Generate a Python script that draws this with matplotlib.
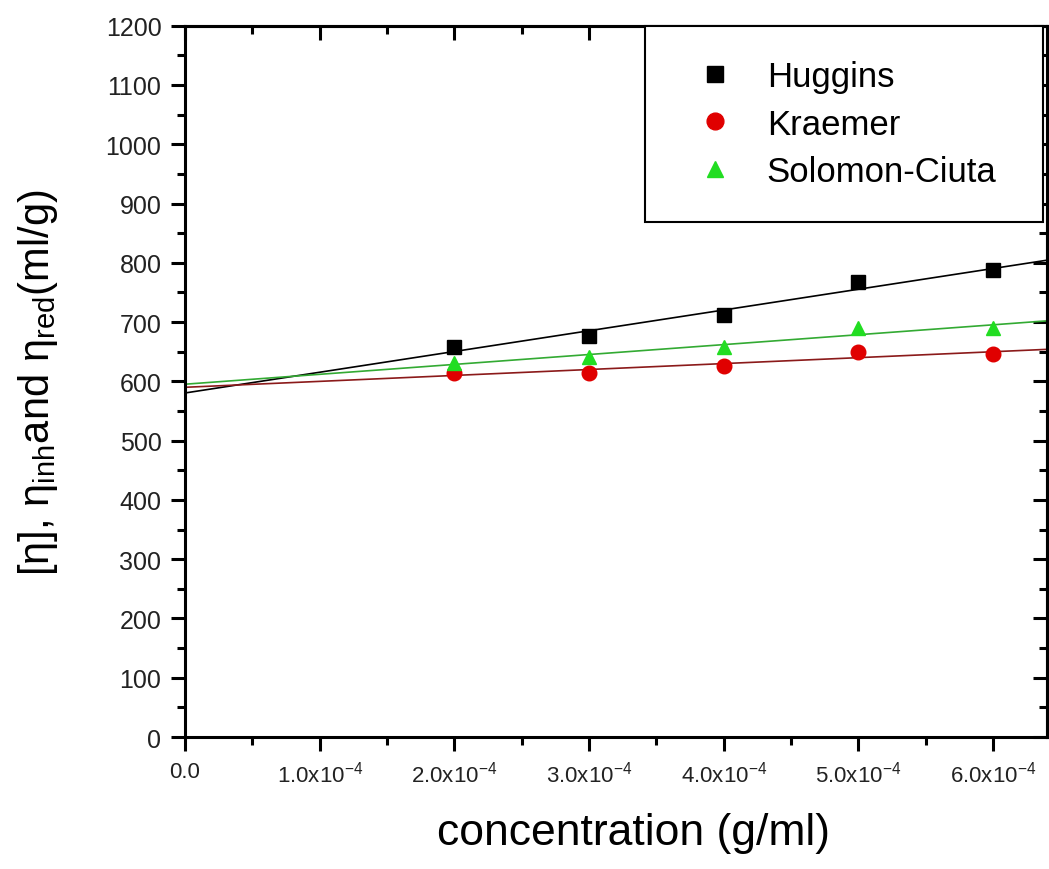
import matplotlib
matplotlib.use('Agg')
import matplotlib.pyplot as plt
import numpy as np
from matplotlib.ticker import MultipleLocator, FixedLocator

plt.rcParams['font.family'] = ['Liberation Sans', 'DejaVu Sans']
plt.rcParams['mathtext.fontset'] = 'custom'
plt.rcParams['mathtext.rm'] = 'Liberation Sans'
plt.rcParams['mathtext.it'] = 'Liberation Sans'

# data (concentration in g/ml, viscosity in ml/g)
conc = [2e-4, 3e-4, 4e-4, 5e-4, 6e-4]
huggins = [658, 677, 712, 767, 788]
kraemer = [614, 614, 626, 650, 646]
solomon = [631, 641, 658, 690, 690]

xticks = [0, 1e-4, 2e-4, 3e-4, 4e-4, 5e-4, 6e-4]
xticklabels = ['0.0'] + ['%d.0x10$^{-4}$' % i for i in range(1, 7)]
x_max = 6.4e-4

fig = plt.figure(figsize=(10.49, 8.7), dpi=100)
ax = fig.add_axes([0.1764, 0.1517, 0.8216, 0.8176])

series = [
    (huggins, 'Huggins', 's', 'black', 'black'),
    (kraemer, 'Kraemer', 'o', '#e00000', '#8b1a1a'),
    (solomon, 'Solomon-Ciuta', '^', '#22dd22', '#33aa33'),
]

xfit = np.array([0, x_max])
handles = []
for vals, name, mk, col, lcol in series:
    h, = ax.plot(conc, vals, linestyle='none', marker=mk, color=col,
                 markersize=10.5, label=name, zorder=3)
    handles.append(h)
    # linear fit, extrapolated to zero concentration
    k, b = np.polyfit(conc, vals, 1)
    ax.plot(xfit, k * xfit + b, color=lcol, linewidth=1.2, zorder=2)

ax.set_xlim(0, x_max)
ax.set_ylim(0, 1200)

ax.xaxis.set_major_locator(FixedLocator(xticks))
ax.set_xticklabels(xticklabels, fontsize=16, color='#222222')
ax.xaxis.set_minor_locator(MultipleLocator(0.5e-4))
ax.yaxis.set_major_locator(MultipleLocator(100))
ax.yaxis.set_minor_locator(MultipleLocator(50))
ax.tick_params(axis='y', labelsize=18, labelcolor='#222222')

ax.tick_params(which='major', direction='out', length=10, width=2.2, pad=7)
ax.tick_params(which='minor', direction='out', length=6, width=2.2)
for sp in ax.spines.values():
    sp.set_linewidth(2.2)

# top and right axes with inward ticks, no labels
top = ax.secondary_xaxis('top')
top.xaxis.set_major_locator(FixedLocator(xticks))
top.xaxis.set_minor_locator(MultipleLocator(0.5e-4))
top.tick_params(which='major', direction='in', length=10, width=2.2, labeltop=False)
top.tick_params(which='minor', direction='in', length=6, width=2.2)
top.spines['top'].set_linewidth(2.2)
right = ax.secondary_yaxis('right')
right.yaxis.set_major_locator(MultipleLocator(100))
right.yaxis.set_minor_locator(MultipleLocator(50))
right.tick_params(which='major', direction='in', length=10, width=2.2, labelright=False)
right.tick_params(which='minor', direction='in', length=6, width=2.2)
right.spines['right'].set_linewidth(2.2)

ax.set_xlabel('concentration (g/ml)', fontsize=32)
ax.xaxis.set_label_coords(0.52, -0.105)
ax.set_ylabel(r'[η], η$_{\mathrm{inh}}$and η$_{\mathrm{red}}$(ml/g)', fontsize=30)
ax.yaxis.set_label_coords(-0.145, 0.5)

# figure-level legend so it covers the top ticks like the original
leg = fig.legend(handles=handles, loc='upper left',
                 bbox_to_anchor=(645 / 1049, 0, 398 / 1049, 1 - 27 / 870),
                 mode='expand', fontsize=25, markerscale=1.15,
                 frameon=True, fancybox=False, edgecolor='black',
                 framealpha=1, borderpad=0.98, labelspacing=0.42,
                 handletextpad=0.46, handlelength=2.07, borderaxespad=0)
leg.get_frame().set_linewidth(1.5)

plt.savefig('out.png', dpi=100)
